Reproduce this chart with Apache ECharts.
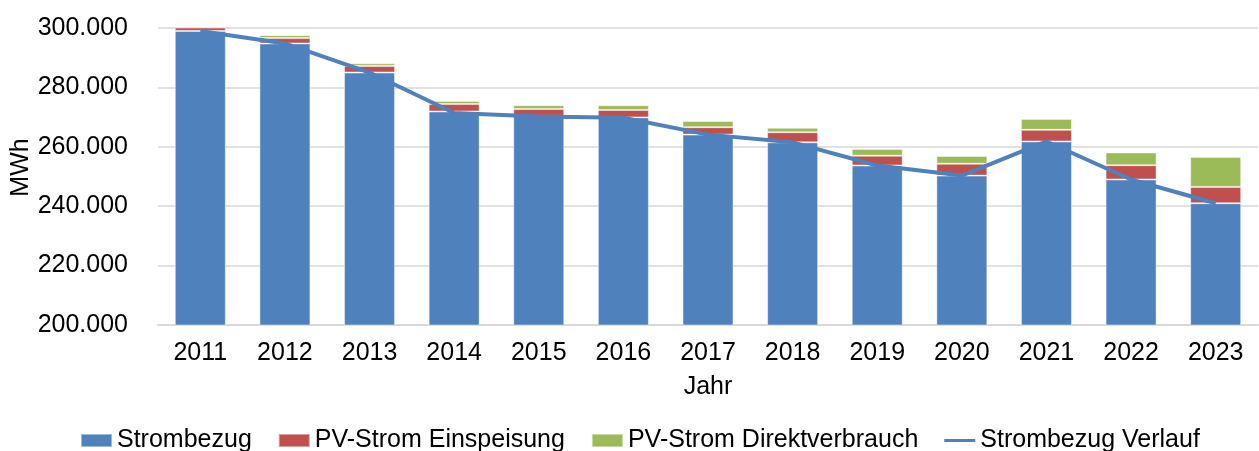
<!DOCTYPE html>
<html>
<head>
<meta charset="utf-8">
<script src="https://cdn.jsdelivr.net/npm/echarts@6/dist/echarts.min.js"></script>
<style>
html,body{margin:0;padding:0;background:#fff;}
#chart{width:1259px;height:451px;}
</style>
</head>
<body>
<div id="chart"></div>
<script>
const categories = ['2011','2012','2013','2014','2015','2016','2017','2018','2019','2020','2021','2022','2023'];
const strombezug = [299000, 294800, 285000, 271900, 270400, 269900, 264100, 261500, 253700, 250300, 261800, 249000, 241000];
const pvEinspeisung = [1500, 1800, 2200, 2500, 2300, 2500, 2500, 3400, 3300, 4000, 3900, 4800, 5500];
const pvDirekt = [0, 1000, 900, 1000, 1300, 1600, 2100, 1500, 2300, 2600, 3700, 4300, 10100];
const strombezugVerlauf = [299000, 294800, 285000, 271400, 270200, 269800, 264100, 261500, 253700, 250300, 261800, 249000, 241000];

const FONT = "'Liberation Sans', Arial, sans-serif";
const fmt = v => String(Math.round(v)).replace(/\B(?=(\d{3})+(?!\d))/g, '.');

const chart = echarts.init(document.getElementById('chart'));
const border = {borderColor: 'rgba(255,255,255,0.45)', borderWidth: 1};
chart.setOption({
  animation: false,
  textStyle: {fontFamily: FONT},
  grid: {left: 158, right: 1, top: 28, bottom: 126, containLabel: false, outerBoundsMode: 'none'},
  legend: {
    left: 80, top: 428, padding: 0,
    itemWidth: 31, itemHeight: 13, itemGap: 26,
    textStyle: {fontSize: 25, color: '#000', fontFamily: FONT},
    data: [
      {name: 'Strombezug', icon: 'rect'},
      {name: 'PV-Strom Einspeisung', icon: 'rect'},
      {name: 'PV-Strom Direktverbrauch', icon: 'rect'},
      {name: 'Strombezug Verlauf', icon: 'path://M0,0L0,0Z M0,13L0,13Z M0,5H31V8H0Z', itemStyle: {color: '#4F81BD'}}
    ]
  },
  xAxis: {
    type: 'category',
    data: categories,
    name: 'Jahr',
    nameLocation: 'middle',
    nameGap: 50,
    nameMoveOverlap: false,
    nameTextStyle: {fontSize: 25, color: '#000', fontFamily: FONT},
    axisLine: {lineStyle: {color: '#D9D9D9', width: 2}},
    axisTick: {show: false},
    axisLabel: {fontSize: 25, color: '#000', margin: 16, fontFamily: FONT}
  },
  yAxis: {
    type: 'value',
    min: 200000, max: 300000, interval: 20000,
    name: 'MWh',
    nameLocation: 'middle',
    nameGap: 124,
    nameMoveOverlap: false,
    nameTextStyle: {fontSize: 25, color: '#000', fontFamily: FONT, padding: [0, 0, 0, 18]},
    axisLine: {show: false},
    axisTick: {show: false},
    splitLine: {lineStyle: {color: '#D9D9D9', width: 1.5}},
    axisLabel: {fontSize: 25, color: '#000', margin: 30, fontFamily: FONT, formatter: fmt}
  },
  series: [
    {name: 'Strombezug', type: 'bar', stack: 's', barWidth: 51,
     itemStyle: Object.assign({color: '#4F81BD'}, border), data: strombezug},
    {name: 'PV-Strom Einspeisung', type: 'bar', stack: 's', barWidth: 51,
     itemStyle: Object.assign({color: '#C0504D'}, border), data: pvEinspeisung},
    {name: 'PV-Strom Direktverbrauch', type: 'bar', stack: 's', barWidth: 51,
     itemStyle: Object.assign({color: '#9BBB59'}, border), data: pvDirekt},
    {name: 'Strombezug Verlauf', type: 'line', showSymbol: false, symbol: 'none',
     lineStyle: {color: '#4F81BD', width: 4}, itemStyle: {color: '#4F81BD'},
     data: strombezugVerlauf}
  ]
});
</script>
</body>
</html>
